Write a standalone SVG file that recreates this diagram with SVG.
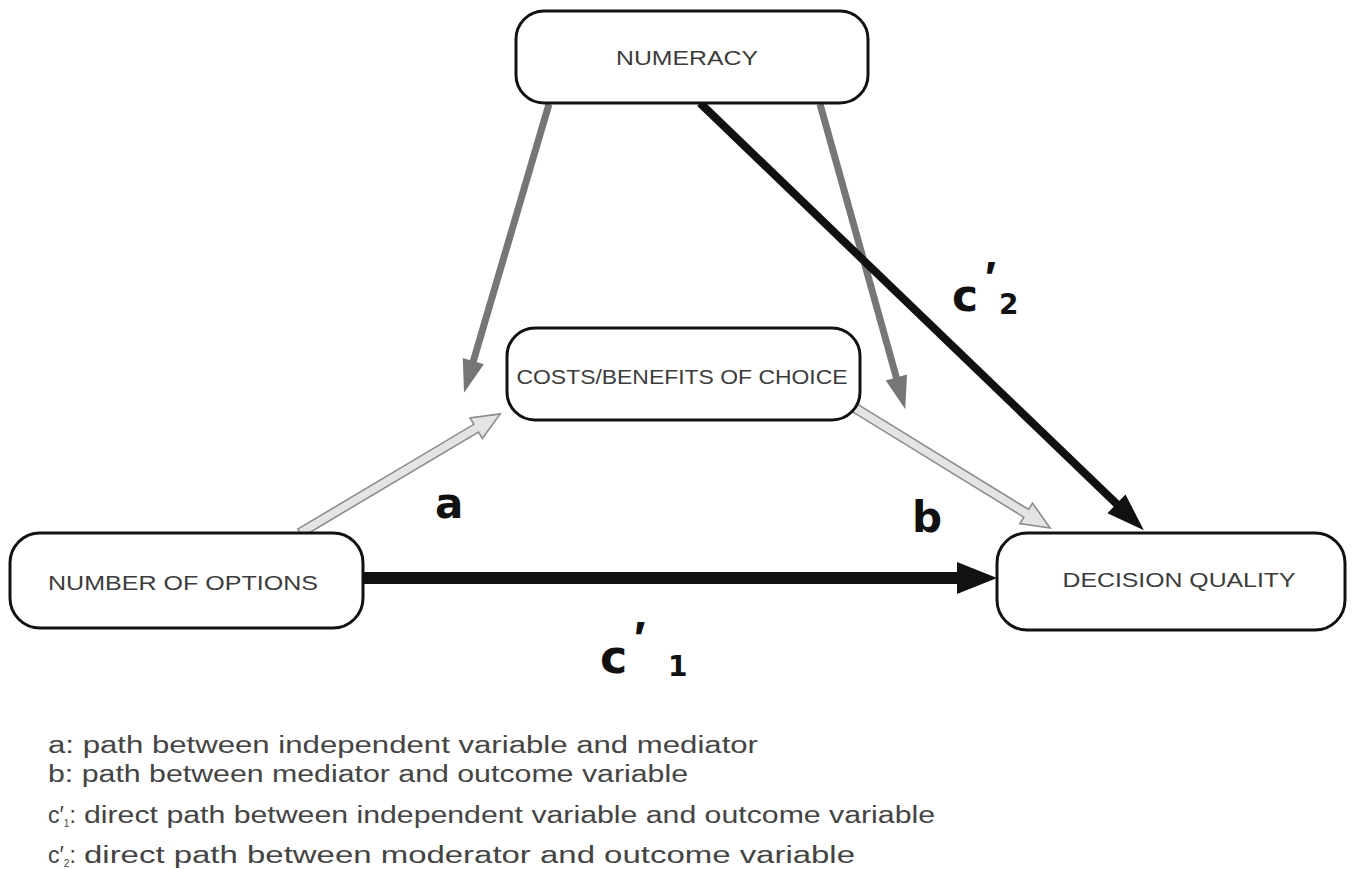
<svg xmlns="http://www.w3.org/2000/svg" width="1355" height="869" viewBox="0 0 1355 869">
<style>
.box{fill:#fff;stroke:#111;stroke-width:3}
.lbl{font-family:"Liberation Sans",Arial,sans-serif;font-size:21px;fill:#3c3c3c;text-anchor:middle}
.big{font-family:"DejaVu Sans","Liberation Sans",sans-serif;font-weight:bold;fill:#111}
.pr{font-family:"Liberation Sans",Arial,sans-serif;font-weight:bold;fill:#111}
.leg{font-family:"Liberation Sans",Arial,sans-serif;font-size:23px;fill:#444}
.gray{stroke:#767676;stroke-width:7}
.grayh{fill:#767676}
.blk{stroke:#111}
.blkh{fill:#111}
.hollow{fill:#e4e4e4;stroke:#8c8c8c;stroke-width:1.6}
</style>
<rect width="1355" height="869" fill="#fff"/>
<g id="connectors">
  <g transform="translate(549,104) rotate(106.4)">
    <line x1="0" y1="0" x2="272" y2="0" class="gray"/>
    <polygon points="268,-11 301,0 268,11" class="grayh"/>
  </g>
  <g transform="translate(820,104) rotate(74.4)">
    <line x1="0" y1="0" x2="288" y2="0" class="gray"/>
    <polygon points="284,-11 317,0 284,11" class="grayh"/>
  </g>
  <g transform="translate(700,103) rotate(43.9)">
    <line x1="0" y1="0" x2="584" y2="0" class="blk" stroke-width="8"/>
    <polygon points="578,-13 616,0 578,13" class="blkh"/>
  </g>
  <g transform="translate(363,578)">
    <line x1="0" y1="0" x2="598" y2="0" class="blk" stroke-width="12"/>
    <polygon points="594,-16 634,0 594,16" class="blkh"/>
  </g>
  <g transform="translate(300,533) rotate(-30.75)">
    <polygon points="0,-4.5 205,-4.5 205,-12 233,0 205,12 205,4.5 0,4.5" class="hollow"/>
  </g>
  <g transform="translate(855,408) rotate(31.6)">
    <polygon points="0,-4.5 201,-4.5 201,-12 229,0 201,12 201,4.5 0,4.5" class="hollow"/>
  </g>
</g>
<g id="numeracy">
  <rect x="516" y="11" width="352" height="92" rx="28" class="box"/>
  <text x="687" y="65" class="lbl" textLength="142" lengthAdjust="spacingAndGlyphs">NUMERACY</text>
</g>
<g id="costs">
  <rect x="507" y="328" width="353" height="92" rx="28" class="box"/>
  <text x="682" y="384" class="lbl" textLength="331" lengthAdjust="spacingAndGlyphs">COSTS/BENEFITS OF CHOICE</text>
</g>
<g id="options">
  <rect x="10" y="533" width="353" height="95" rx="30" class="box"/>
  <text x="183" y="590" class="lbl" textLength="270" lengthAdjust="spacingAndGlyphs">NUMBER OF OPTIONS</text>
</g>
<g id="quality">
  <rect x="997" y="533" width="348" height="97" rx="30" class="box"/>
  <text x="1179" y="587" class="lbl" textLength="233" lengthAdjust="spacingAndGlyphs">DECISION QUALITY</text>
</g>
<g id="labels">
  <text x="435" y="518" class="big" font-size="42">a</text>
  <text x="912" y="532" class="big" font-size="42">b</text>
  <text x="952" y="311" class="big" font-size="44">c</text>
  <text x="985" y="294" class="pr" font-size="46">′</text>
  <text x="999" y="314" class="big" font-size="28">2</text>
  <text x="600" y="673" class="big" font-size="46">c</text>
  <text x="634" y="655" class="pr" font-size="48">′</text>
  <text x="668" y="676" class="big" font-size="28">1</text>
</g>
<g id="legend">
  <text x="48" y="753" class="leg" textLength="710" lengthAdjust="spacingAndGlyphs">a: path between independent variable and mediator</text>
  <text x="48" y="782" class="leg" textLength="640" lengthAdjust="spacingAndGlyphs">b: path between mediator and outcome variable</text>
  <text x="48" y="823" class="leg">c<tspan>′</tspan><tspan font-size="10" dy="4">1</tspan><tspan dy="-4">:</tspan></text>
  <text x="84" y="823" class="leg" textLength="851" lengthAdjust="spacingAndGlyphs">direct path between independent variable and outcome variable</text>
  <text x="48" y="863" class="leg">c<tspan>′</tspan><tspan font-size="10" dy="4">2</tspan><tspan dy="-4">:</tspan></text>
  <text x="84" y="863" class="leg" textLength="771" lengthAdjust="spacingAndGlyphs">direct path between moderator and outcome variable</text>
</g>
</svg>
